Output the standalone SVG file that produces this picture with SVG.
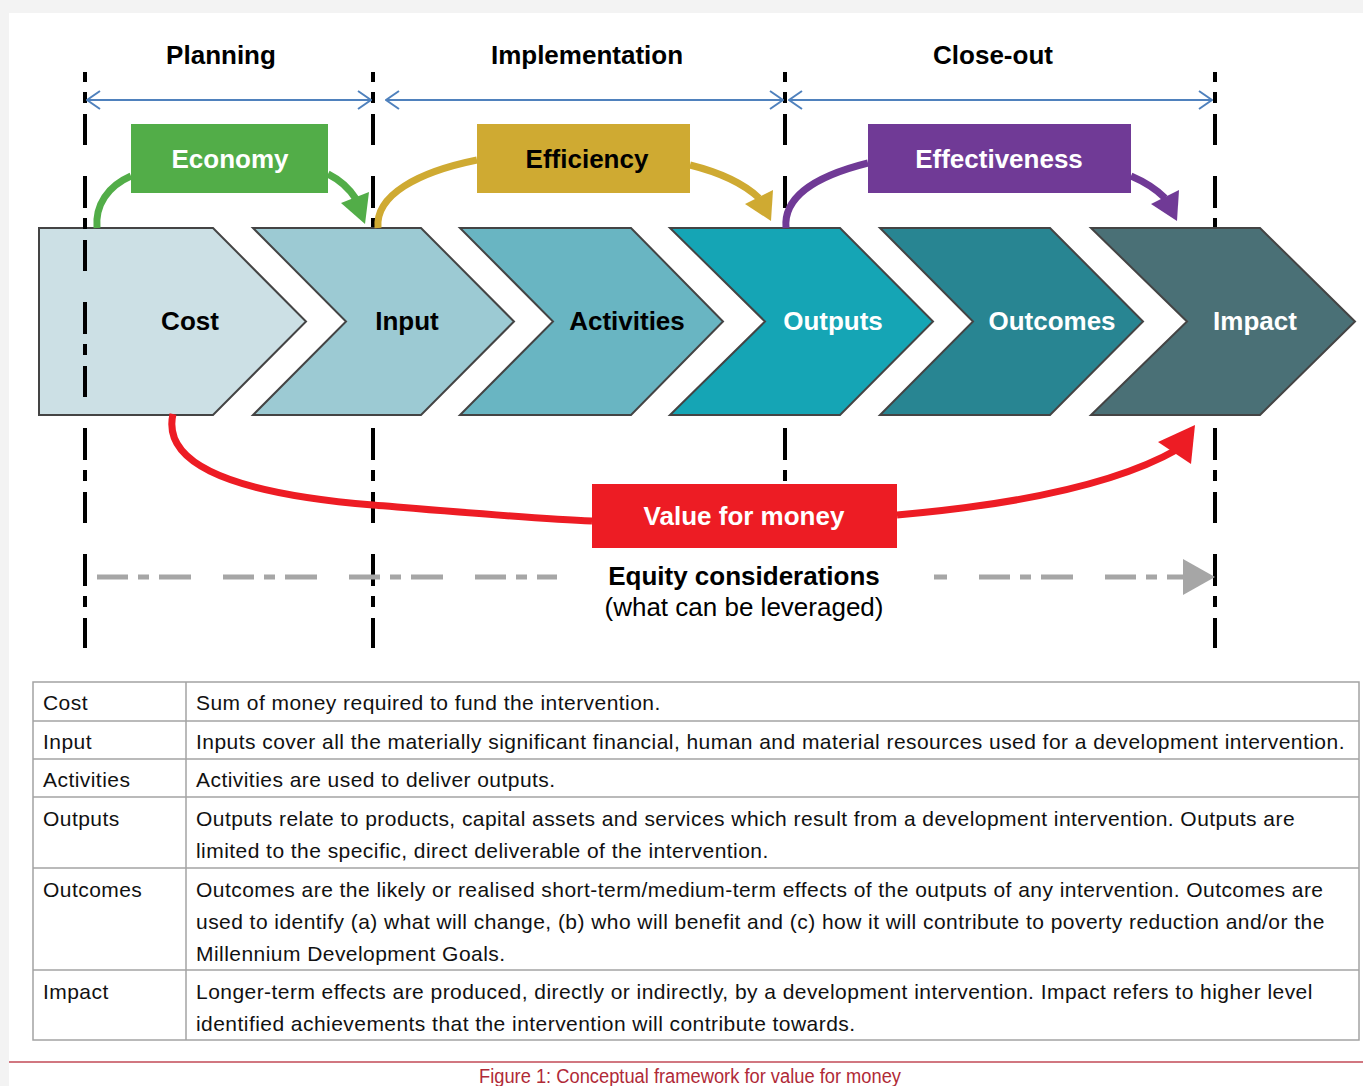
<svg xmlns="http://www.w3.org/2000/svg" width="1363" height="1086" viewBox="0 0 1363 1086">
<style>
.hdr{font-family:"Liberation Sans",Arial,sans-serif;font-weight:bold;font-size:26px;fill:#000;text-anchor:middle}
.lbl{font-family:"Liberation Sans",Arial,sans-serif;font-weight:bold;font-size:26px;text-anchor:middle}
.blk{fill:#000}
.wht{fill:#fff}
.chev{stroke:#444;stroke-width:2;stroke-linejoin:miter}
.guide{fill:none;stroke:#000;stroke-width:4;stroke-dasharray:32 10 11 11 31 31;stroke-dashoffset:22}
.span{fill:none;stroke:#4f81bd;stroke-width:2;marker-start:url(#openArrow);marker-end:url(#openArrow)}
.arc{fill:none;stroke-width:7;stroke-linecap:butt}
.tbl{font-family:"Liberation Sans",Arial,sans-serif;font-size:21px;letter-spacing:0.45px;fill:#111}
.grid{stroke:#a3a3a3;stroke-width:1.5;fill:none}
</style>
<defs>
<marker id="openArrow" viewBox="0 0 15 22" refX="14" refY="11" markerWidth="15" markerHeight="22" markerUnits="userSpaceOnUse" orient="auto-start-reverse">
<path d="M1,2 L14,11 L1,20" fill="none" stroke="#4f81bd" stroke-width="2"/>
</marker>
</defs>
<rect width="1363" height="1086" fill="#f3f3f3"/>
<rect x="9" y="13" width="1354" height="1073" fill="#fff"/>

<g id="phase-headers">
<text class="hdr" x="221" y="64">Planning</text>
<text class="hdr" x="587" y="64">Implementation</text>
<text class="hdr" x="993" y="64">Close-out</text>
</g>

<g id="node-cost">
<polygon class="chev" points="39,228 213,228 306,321.5 213,415 39,415" fill="#cce0e5"/>
<text class="lbl blk" x="190" y="330">Cost</text>
</g>

<g id="guides">
<line class="guide" x1="85" y1="72" x2="85" y2="648"/>
<line class="guide" x1="373" y1="72" x2="373" y2="648"/>
<line class="guide" x1="785" y1="72" x2="785" y2="648"/>
<line class="guide" x1="1215" y1="72" x2="1215" y2="648"/>
</g>

<g id="node-input">
<polygon class="chev" points="253,228 421,228 514,321.5 421,415 253,415 346,321.5" fill="#9ccad3"/>
<text class="lbl blk" x="407" y="330">Input</text>
</g>
<g id="node-activities">
<polygon class="chev" points="460,228 631,228 723,321.5 631,415 460,415 553,321.5" fill="#69b5c2"/>
<text class="lbl blk" x="627" y="330">Activities</text>
</g>
<g id="node-outputs">
<polygon class="chev" points="670,228 840,228 933,321.5 840,415 670,415 765,321.5" fill="#15a5b5"/>
<text class="lbl wht" x="833" y="330">Outputs</text>
</g>
<g id="node-outcomes">
<polygon class="chev" points="880,228 1050,228 1143,321.5 1050,415 880,415 973,321.5" fill="#288592"/>
<text class="lbl wht" x="1052" y="330">Outcomes</text>
</g>
<g id="node-impact">
<polygon class="chev" points="1091,228 1260,228 1355,321.5 1260,415 1091,415 1187,321.5" fill="#4a7076"/>
<text class="lbl wht" x="1255" y="330">Impact</text>
</g>

<g id="connectors">
<line class="span" x1="87" y1="100" x2="371" y2="100"/>
<line class="span" x1="386" y1="100" x2="783" y2="100"/>
<line class="span" x1="789" y1="100" x2="1212" y2="100"/>

<path class="arc" stroke="#52ad48" d="M97,228 C95,205 108,186 131,176"/>
<path class="arc" stroke="#52ad48" d="M328,174 C340,180 349,188 356,199"/>
<polygon fill="#52ad48" points="369,192 341,203 365,224"/>

<path class="arc" stroke="#cfaa32" d="M378,228 C375,195 418,172 477,160"/>
<path class="arc" stroke="#cfaa32" d="M690,165 C718,172 743,183 759,198"/>
<polygon fill="#cfaa32" points="773,190 745,204 771,221"/>

<path class="arc" stroke="#703a96" d="M786,228 C783,195 820,175 868,163"/>
<path class="arc" stroke="#703a96" d="M1131,176 C1145,182 1155,188 1165,198"/>
<polygon fill="#703a96" points="1179,190 1151,204 1177,221"/>

<path class="arc" stroke="#ed1c24" stroke-width="8" d="M173,414 C163,458 215,492 373,505 C470,513 540,519 592,521"/>
<path class="arc" stroke="#ed1c24" stroke-width="8" d="M897,515 C1000,506 1110,488 1178,449"/>
<polygon fill="#ed1c24" points="1195,425 1158,442 1191,464"/>

<line x1="97" y1="577" x2="1184" y2="577" stroke="#a6a6a6" stroke-width="5" stroke-dasharray="31 10 11 10 32 32"/>
<polygon fill="#a6a6a6" points="1183,559 1215,577 1183,595"/>
</g>

<g id="node-economy">
<rect x="131" y="124" width="197" height="69" fill="#52ad48"/>
<text class="lbl wht" x="230" y="168">Economy</text>
</g>
<g id="node-efficiency">
<rect x="477" y="124" width="213" height="69" fill="#cfaa32"/>
<text class="lbl blk" x="587" y="168">Efficiency</text>
</g>
<g id="node-effectiveness">
<rect x="868" y="124" width="263" height="69" fill="#703a96"/>
<text class="lbl wht" x="999" y="168">Effectiveness</text>
</g>

<g id="node-vfm">
<rect x="592" y="484" width="305" height="64" fill="#ed1c24"/>
<text class="lbl wht" x="744" y="525">Value for money</text>
</g>

<g id="node-equity">
<rect x="557" y="549" width="377" height="99" fill="#fff"/>
<text class="lbl blk" x="744" y="585">Equity considerations</text>
<text x="744" y="616" font-family="Liberation Sans, Arial, sans-serif" font-size="26" text-anchor="middle" fill="#000">(what can be leveraged)</text>
</g>

<g id="definitions-table">
<rect class="grid" x="33" y="682" width="1326" height="358"/>
<line class="grid" x1="186" y1="682" x2="186" y2="1040"/>
<line class="grid" x1="33" y1="721" x2="1359" y2="721"/>
<line class="grid" x1="33" y1="759" x2="1359" y2="759"/>
<line class="grid" x1="33" y1="797" x2="1359" y2="797"/>
<line class="grid" x1="33" y1="868" x2="1359" y2="868"/>
<line class="grid" x1="33" y1="970" x2="1359" y2="970"/>
<text class="tbl" x="43" y="710">Cost</text>
<text class="tbl" x="196" y="710">Sum of money required to fund the intervention.</text>
<text class="tbl" x="43" y="749">Input</text>
<text class="tbl" x="196" y="749">Inputs cover all the materially significant financial, human and material resources used for a development intervention.</text>
<text class="tbl" x="43" y="787">Activities</text>
<text class="tbl" x="196" y="787">Activities are used to deliver outputs.</text>
<text class="tbl" x="43" y="826">Outputs</text>
<text class="tbl" x="196" y="826">Outputs relate to products, capital assets and services which result from a development intervention. Outputs are</text>
<text class="tbl" x="196" y="858">limited to the specific, direct deliverable of the intervention.</text>
<text class="tbl" x="43" y="897">Outcomes</text>
<text class="tbl" x="196" y="897">Outcomes are the likely or realised short-term/medium-term effects of the outputs of any intervention. Outcomes are</text>
<text class="tbl" x="196" y="929">used to identify (a) what will change, (b) who will benefit and (c) how it will contribute to poverty reduction and/or the</text>
<text class="tbl" x="196" y="961">Millennium Development Goals.</text>
<text class="tbl" x="43" y="999">Impact</text>
<text class="tbl" x="196" y="999">Longer-term effects are produced, directly or indirectly, by a development intervention. Impact refers to higher level</text>
<text class="tbl" x="196" y="1031">identified achievements that the intervention will contribute towards.</text>
</g>

<g id="caption">
<line x1="9" y1="1062" x2="1363" y2="1062" stroke="#c24a56" stroke-width="1.5"/>
<text x="479" y="1083" font-family="Liberation Sans, Arial, sans-serif" font-size="20" fill="#b02a37" textLength="422" lengthAdjust="spacingAndGlyphs">Figure 1: Conceptual framework for value for money</text>
</g>
</svg>
